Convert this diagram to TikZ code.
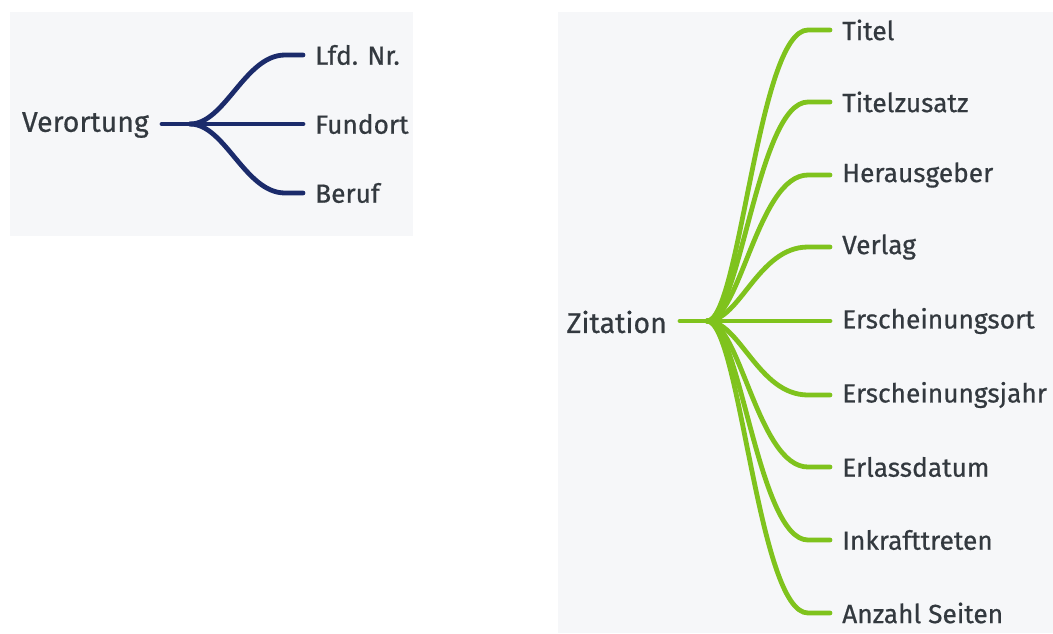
\documentclass[tikz,border=0pt]{standalone}
\usepackage{fontspec}
\setmainfont{Fira Sans}
\newfontfamily\lblfont{Fira Sans}[FakeBold=0.6]
\usetikzlibrary{calc}
\definecolor{panel}{HTML}{F6F7F9}
\definecolor{navy}{HTML}{1B2B6B}
\definecolor{lime}{HTML}{7FC31D}
\definecolor{txt}{HTML}{33393F}
\begin{document}
\begin{tikzpicture}[x=1pt,y=-1pt,
  lbl/.style={font=\lblfont\fontsize{26.3}{29}\selectfont, text=txt, inner sep=0pt},
  leaf/.style={lbl, anchor=west, inner xsep=12pt},
  rootn/.style={lbl, anchor=east, inner xsep=13pt, font=\lblfont\fontsize{28.5}{31}\selectfont},
  navyline/.style={draw=navy, line width=4.8pt, line cap=round},
  limeline/.style={draw=lime, line width=4.8pt, line cap=round}]
\useasboundingbox (0,0) rectangle (1053,633);
\fill[white] (0,0) rectangle (1053,633);
\fill[panel] (10,12) rectangle (413,236);
\fill[panel] (558,12) rectangle (1053,633);

% left tree
\node[rootn] (ver) at (162,125) {Verortung};
\coordinate (hubL) at (190,124);
\node[leaf] (lfd) at (303,55) {Lfd. Nr.};
\node[leaf] (fun) at (303,124) {Fundort};
\node[leaf] (ber) at (303,193) {Beruf};
\draw[navyline] (ver.east |- hubL) -- (hubL);
\foreach \n in {lfd,ber}
  \draw[navyline] (hubL) .. controls +(35,0) and +(-40,0) .. ($(\n.west)+(-18,0)$) -- (\n.west);
\draw[navyline] (hubL) -- (fun.west);

% right tree
\node[rootn] (zit) at (680,322) {Zitation};
\coordinate (hubR) at (707,321);
\node[leaf] (t1) at (830,30) {Titel};
\node[leaf] (t2) at (830,102) {Titelzusatz};
\node[leaf] (t3) at (830,175) {Herausgeber};
\node[leaf] (t4) at (830,247) {Verlag};
\node[leaf] (t5) at (830,321) {Erscheinungsort};
\node[leaf] (t6) at (830,395) {Erscheinungsjahr};
\node[leaf] (t7) at (830,467) {Erlassdatum};
\node[leaf] (t8) at (830,540) {Inkrafttreten};
\node[leaf] (t9) at (830,613) {Anzahl Seiten};
\draw[limeline] (zit.east |- hubR) -- (hubR);
\foreach \n in {t1,t2,t3,t4,t6,t7,t8,t9}
  \draw[limeline] (hubR) .. controls +(33,0) and +(-50,0) .. ($(\n.west)+(-22,0)$) -- (\n.west);
\draw[limeline] (hubR) -- (t5.west);
\end{tikzpicture}
\end{document}
